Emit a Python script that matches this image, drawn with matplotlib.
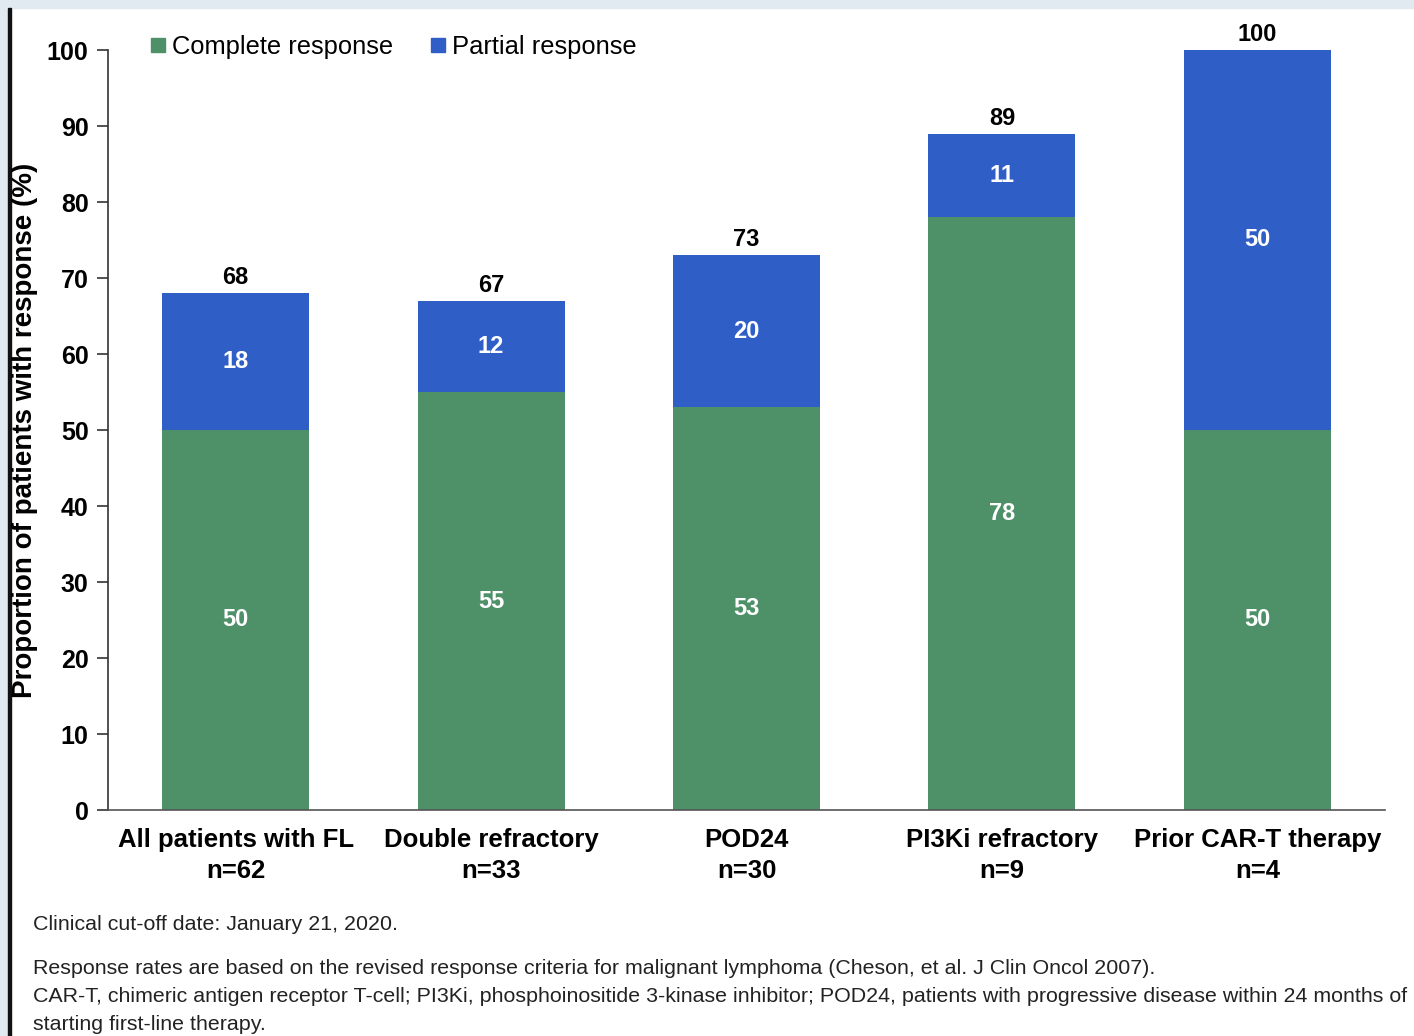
import matplotlib.pyplot as plt
from matplotlib.patches import Rectangle
from matplotlib.lines import Line2D

plt.rcParams['font.family'] = ['Liberation Sans', 'DejaVu Sans']

# data
groups = ["All patients with FL", "Double refractory", "POD24", "PI3Ki refractory", "Prior CAR-T therapy"]
n_labels = ["n=62", "n=33", "n=30", "n=9", "n=4"]
complete = [50, 55, 53, 78, 50]
partial = [18, 12, 20, 11, 50]
totals = [68, 67, 73, 89, 100]

green = "#4e9067"
blue = "#2f5ec7"

W, H = 1414, 1036
fig = plt.figure(figsize=(W / 100, H / 100), dpi=100)
ax = fig.add_axes([108 / W, 1 - 810 / H, (1385 - 108) / W, (810 - 50) / H])

x = list(range(len(groups)))
ax.bar(x, complete, width=0.575, color=green, label="Complete response")
ax.bar(x, partial, width=0.575, bottom=complete, color=blue, label="Partial response")

for i in x:
    ax.text(i, complete[i] / 2, str(complete[i]), ha="center", va="center",
            color="white", fontsize=17, fontweight="bold")
    ax.text(i, complete[i] + partial[i] / 2, str(partial[i]), ha="center", va="center",
            color="white", fontsize=17, fontweight="bold")
    ax.text(i, totals[i] + 2.0, str(totals[i]), ha="center", va="center",
            color="black", fontsize=17, fontweight="bold", clip_on=False)

ax.set_xlim(-0.5, 4.5)
ax.set_ylim(0, 100)
ax.set_yticks(range(0, 101, 10))
ax.set_xticks(x)
ax.set_xticklabels([f"{g}\n{n}" for g, n in zip(groups, n_labels)],
                   fontsize=18.5, fontweight="bold", linespacing=1.38)
ax.tick_params(axis="x", length=0, pad=13)
ax.tick_params(axis="y", length=8, width=1.2, color="#333333", labelsize=18, pad=6)
for lab in ax.get_yticklabels():
    lab.set_fontweight("bold")

for s in ("top", "right"):
    ax.spines[s].set_visible(False)
ax.spines["left"].set_color("#333333")
ax.spines["left"].set_linewidth(1.2)
ax.spines["bottom"].set_color("#555555")
ax.spines["bottom"].set_linewidth(1.2)

fig.text(25 / W, 1 - 430 / H, "Proportion of patients with response (%)", rotation=90,
         ha="center", va="center", fontsize=20, fontweight="bold")

handles = [Line2D([], [], marker="s", linestyle="none", markersize=10, color=green),
           Line2D([], [], marker="s", linestyle="none", markersize=10, color=blue)]
fig.legend(handles, ["Complete response", "Partial response"], loc="center left",
           bbox_to_anchor=(132 / W, 1 - 47 / H), ncol=2, frameon=False,
           fontsize=18.4, handletextpad=0.05, columnspacing=1.28, borderpad=0,
           handlelength=1.0)

# footnotes
fs = 15.4
fig.text(33 / W, 1 - 925 / H, "Clinical cut-off date: January 21, 2020.",
         fontsize=fs, va="center", color="#222222")
fig.text(33 / W, 1 - 968 / H,
         "Response rates are based on the revised response criteria for malignant lymphoma (Cheson, et al. J Clin Oncol 2007).",
         fontsize=fs, va="center", color="#222222")
fig.text(33 / W, 1 - 997 / H,
         "CAR-T, chimeric antigen receptor T-cell; PI3Ki, phosphoinositide 3-kinase inhibitor; POD24, patients with progressive disease within 24 months of",
         fontsize=fs, va="center", color="#222222")
fig.text(33 / W, 1 - 1025 / H, "starting first-line therapy.",
         fontsize=fs, va="center", color="#222222")

# page frame
fig.patches.append(Rectangle((0, 1 - 8 / H), 1, 8 / H, transform=fig.transFigure,
                             color="#e1e9f1", zorder=0))
fig.patches.append(Rectangle((0, 0), 8 / W, 1, transform=fig.transFigure,
                             color="#e1e9f1", zorder=0))
fig.patches.append(Rectangle((8 / W, 0), 3 / W, 1 - 8 / H, transform=fig.transFigure,
                             color="#111111", zorder=0))

fig.savefig("out.png", dpi=100)
